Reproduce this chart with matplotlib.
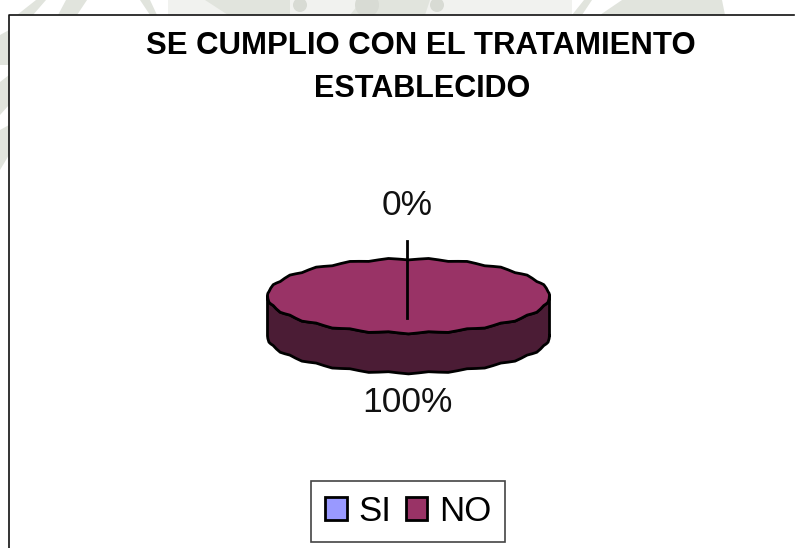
import numpy as np
import matplotlib
matplotlib.use('Agg')
import matplotlib.pyplot as plt
from matplotlib.patches import Patch, Polygon, Circle

plt.rcParams['font.family'] = ['Liberation Sans', 'DejaVu Sans']

# Datos
categorias = ['SI', 'NO']
valores = [0, 100]
etiquetas = ['0%', '100%']
titulo = ['SE CUMPLIO CON EL TRATAMIENTO', 'ESTABLECIDO']
colores = ['#9999FF', '#993366']
color_lado = '#4B1C35'

W, H = 795, 548
fig = plt.figure(figsize=(W / 100, H / 100), dpi=100)

# Fondo en pixeles: marca de agua y marco
fondo = fig.add_axes([0, 0, 1, 1])
fondo.set_xlim(0, W)
fondo.set_ylim(H, 0)
fondo.axis('off')

marca = '#E1E4DD'
manchas = [
    [(17, 15), (36, 0), (46, 0), (33, 15)],
    [(58, 15), (66, 0), (87, 0), (77, 15)],
    [(140, 0), (150, 0), (157, 15), (150, 15)],
    [(205, 0), (290, 0), (290, 15), (228, 15)],
    [(350, 15), (362, 0), (430, 0), (425, 15)],
    [(572, 15), (584, 0), (592, 0), (582, 15)],
    [(600, 15), (622, 0), (650, 0), (655, 15)],
    [(655, 15), (648, 0), (722, 0), (725, 15)],
    [(0, 35), (9, 30), (9, 65), (0, 65)],
    [(0, 82), (9, 75), (9, 105), (0, 115)],
    [(0, 130), (9, 125), (9, 155), (0, 170)],
]
fondo.add_patch(Polygon([(168, 0), (572, 0), (572, 15), (168, 15)], closed=True, fc='#F1F2EF', ec='none', zorder=0))
for m in manchas:
    fondo.add_patch(Polygon(m, closed=True, fc=marca, ec='none'))
for x0, r in [(300, 7), (367, 12), (437, 7)]:
    fondo.add_patch(Circle((x0, 5), r, fc='#D8DBD4', ec='none'))

fondo.add_patch(Polygon([(9, H + 5), (9, 15), (W - 1, 15), (W - 1, H + 5)], closed=True,
                        fc='white', ec='none', zorder=2))
fondo.plot([9, 9, W - 1], [H, 15, 15], color='#111111', lw=1.2, zorder=3)

fondo.text(421, 45.5, titulo[0], fontsize=22.4, fontweight='bold', ha='center', va='center', zorder=4)
fondo.text(422, 89, titulo[1], fontsize=22.0, fontweight='bold', ha='center', va='center', zorder=4)

fondo.text(407, 205.5, etiquetas[0], fontsize=25.5, ha='center', va='center', color='#111111', zorder=4)
fondo.text(407, 403, etiquetas[1], fontsize=25.5, ha='center', va='center', color='#111111', zorder=4)

# Torta: unidad x = 141 px, unidad y = 37 px
cx, cy, rx, ry, prof = 408.5, 296, 141, 37, 40
ax = fig.add_axes([0, 0, 1, 1])
ax.patch.set_alpha(0)
wedges, _ = ax.pie(valores, colors=colores, startangle=90, counterclock=False,
                   wedgeprops={'edgecolor': 'none'})
ax.set_aspect('auto')
ax.set_xlim((0 - cx) / rx, (W - cx) / rx)
ax.set_ylim((cy - H) / ry, (cy - 0) / ry)
ax.axis('off')

# borde ondulado como en el original
t = np.linspace(0, 2 * np.pi, 89)
ex = np.cos(t)
ey = np.sin(t) + 0.9 / ry * np.cos(22 * t)
d = prof / ry
inf = np.sin(t) < 0
orden = np.argsort(ex[inf])
xi, yi = ex[inf][orden], ey[inf][orden]
ax.fill(np.r_[-1, xi, 1, 1, xi[::-1], -1], np.r_[-d, yi - d, -d, 0, yi[::-1], 0],
        fc=color_lado, ec='black', lw=2, zorder=3, joinstyle='round')
for w in wedges:
    if w.theta2 - w.theta1 > 0:
        ax.fill(ex, ey, fc=w.get_facecolor(), ec='black', lw=2, zorder=4, joinstyle='round')
    w.set_visible(False)
ax.plot([(407 - cx) / rx] * 2, [(cy - 318) / ry, (cy - 241) / ry], color='black', lw=2, zorder=5)

leg = ax.legend([Patch(fc=c, ec='black', lw=2) for c in colores], categorias,
                loc='center', bbox_to_anchor=(408 / W, 1 - 511.5 / H), bbox_transform=fig.transFigure,
                ncol=2, fontsize=25, fancybox=False, framealpha=1, edgecolor='#444444',
                handlelength=0.63, handleheight=0.63, handletextpad=0.33, columnspacing=0.42,
                borderpad=0.4, borderaxespad=0)
leg.get_frame().set_linewidth(1.2)
leg.set_zorder(6)

fig.savefig('out.png', dpi=100)
